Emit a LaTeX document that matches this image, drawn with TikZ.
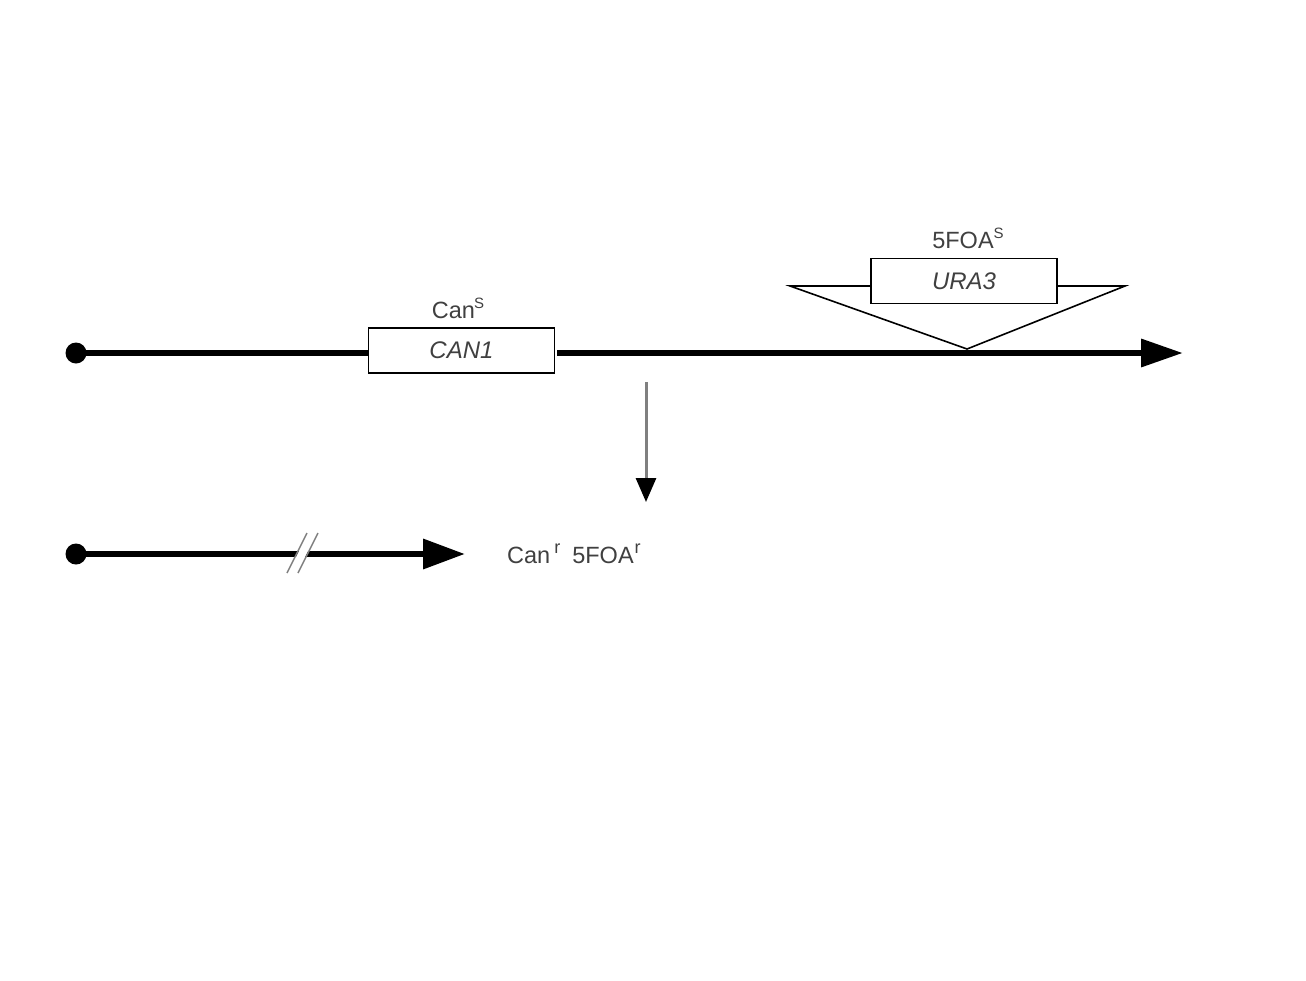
\documentclass[tikz,border=0pt]{standalone}
\usepackage{fontspec}
\setmainfont{Liberation Sans}
\usetikzlibrary{arrows.meta}
\newcommand\myup[1]{\raisebox{0.42em}{\fontsize{15}{15}\selectfont #1}}
\newcommand\myupr[1]{\raisebox{0.40em}{\fontsize{18}{18}\selectfont #1}}
\definecolor{txt}{gray}{0.25}
\tikzset{
  genebox/.style={draw=black, line width=1.4pt, fill=white, minimum width=186pt, minimum height=45pt, inner sep=0pt, text=txt, font=\fontsize{24}{28}\selectfont\itshape},
  lbl/.style={text=txt, font=\fontsize{23.5}{28}\selectfont, inner sep=0pt},
  chrom/.style={line width=6.5pt, black},
  dotc/.style={circle, fill=black, minimum size=21pt, inner sep=0pt},
  slash/.style={draw=gray, line width=1.5pt},
}
\begin{document}
\begin{tikzpicture}[x=1pt,y=-1pt]
\useasboundingbox (0,0) rectangle (1306,980);
% top chromosome
\node[dotc] (d1) at (76,353) {};
\coordinate (tip1) at (1183,353);
\node[genebox] (can1) at (461.5,350.5) {CAN1};
\node[lbl, anchor=base] (cans) at (458,318) {Can\kern-1pt\myup{S}};
\draw[chrom] (d1.center) -- (can1.west |- d1.center);
\draw[chrom, -{Triangle[length=42pt,width=27pt]}] ([xshift=2pt]can1.east |- tip1) -- (tip1);
% URA3 insertion
\coordinate (apex) at (967,349);
\coordinate (lc) at (790,286);
\coordinate (rc) at (1125,286);
\node[genebox] (ura3) at (964,281) {URA3};
\node[lbl, anchor=base] (foas) at (968,248) {5FOA\myup{S}};
\draw[line width=1.6pt, line join=miter] (ura3.west |- lc) -- (lc) -- (apex) -- (rc) -- (ura3.east |- rc);
% selection arrow
\coordinate (va) at (646,382);
\coordinate (vb) at (646,502);
\draw[draw=gray, line width=3pt, -{Triangle[length=24pt,width=20pt,color=black]}] (va) -- (vb);
% bottom chromosome
\node[dotc] (d2) at (76,554) {};
\coordinate (tip2) at (465,554);
\draw[chrom, -{Triangle[length=42pt,width=29pt]}] (d2.center) -- (tip2);
\fill[white] (288,573) -- (308,533) -- (317,533) -- (297,573) -- cycle;
\draw[slash] (287,573) -- (307,533);
\draw[slash] (298,573) -- (318,533);
\node[lbl, anchor=base west] (res) at (507,563) {Can\kern4pt\myupr{r}\kern12pt 5FOA\kern1pt\myupr{r}};
\end{tikzpicture}
\end{document}
